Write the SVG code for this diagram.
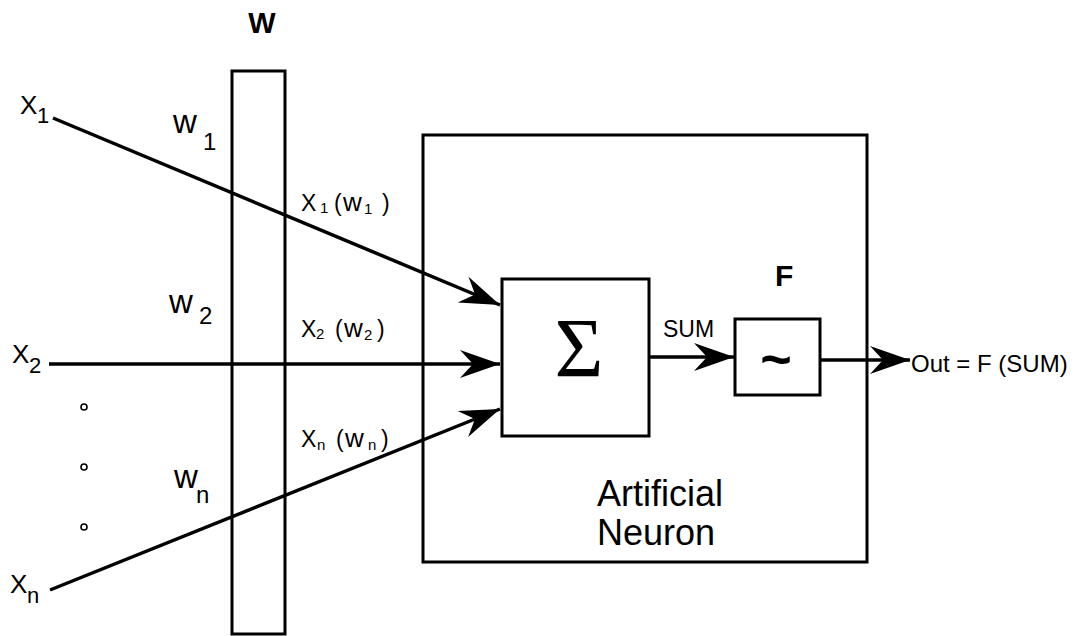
<svg xmlns="http://www.w3.org/2000/svg" width="1085" height="636" viewBox="0 0 1085 636">
<style>
  .box{fill:none;stroke:#000;stroke-width:3}
  .ln{fill:none;stroke:#000;stroke-width:3.5}
  .t{font-family:"Liberation Sans",Arial,sans-serif;fill:#000}
  .b{font-weight:bold}
  .dot{fill:#fff;stroke:#000;stroke-width:1.6}
</style>
<defs>
  <marker id="ah" markerUnits="userSpaceOnUse" markerWidth="46" markerHeight="32" viewBox="-42 -16 46 32" refX="0" refY="0" orient="auto">
    <path d="M0,0 L-40,-14 L-27,0 L-40,14 Z" fill="#000"/>
  </marker>
</defs>
<rect width="1085" height="636" fill="#fff"/>

<g id="weights">
  <rect class="box" x="232" y="71" width="53" height="563"/>
  <text class="t b" x="262" y="33" font-size="29" text-anchor="middle">W</text>
</g>

<g id="neuron">
  <rect class="box" x="423" y="135" width="444" height="427"/>
  <text class="t" x="597" y="506" font-size="36">Artificial</text>
  <text class="t" x="597" y="545" font-size="36">Neuron</text>
</g>

<g id="sum">
  <rect class="box" x="502" y="279" width="147" height="157"/>
  <text x="579" y="377" font-family="'Liberation Serif','Times New Roman',serif" font-size="84" text-anchor="middle">Σ</text>
</g>

<g id="func">
  <rect class="box" x="735" y="319" width="85" height="76"/>
  <text class="t b" x="775" y="286" font-size="30">F</text>
  <text class="t b" x="776" y="378" font-size="54" text-anchor="middle">~</text>
</g>

<g id="inputs">
  <text class="t" font-size="26"><tspan x="20" y="114">X</tspan><tspan x="37" y="123" font-size="22">1</tspan></text>
  <text class="t" font-size="26"><tspan x="12" y="363">X</tspan><tspan x="29" y="373" font-size="22">2</tspan></text>
  <text class="t" font-size="26"><tspan x="10" y="593">X</tspan><tspan x="27" y="603" font-size="22">n</tspan></text>
  <circle class="dot" cx="84" cy="407" r="3"/>
  <circle class="dot" cx="84" cy="467" r="3"/>
  <circle class="dot" cx="84" cy="527" r="3"/>
</g>

<g id="weight-labels">
  <text class="t" font-size="33"><tspan x="173" y="133">w</tspan><tspan x="203" y="150" font-size="24">1</tspan></text>
  <text class="t" font-size="33"><tspan x="169" y="313">w</tspan><tspan x="199" y="324" font-size="24">2</tspan></text>
  <text class="t" font-size="33"><tspan x="174" y="488">w</tspan><tspan x="196" y="503" font-size="24">n</tspan></text>
</g>

<g id="products">
  <text class="t" font-size="23"><tspan x="301" y="211">X</tspan><tspan x="320" y="213" font-size="15">1</tspan><tspan x="334" y="211">(</tspan><tspan x="343" y="211" font-size="26">w</tspan><tspan x="364" y="214" font-size="15">1</tspan><tspan x="382" y="211">)</tspan></text>
  <text class="t" font-size="23"><tspan x="301" y="337">X</tspan><tspan x="316" y="339" font-size="15">2</tspan><tspan x="335" y="337">(</tspan><tspan x="344" y="337" font-size="26">w</tspan><tspan x="364" y="340" font-size="15">2</tspan><tspan x="377" y="337">)</tspan></text>
  <text class="t" font-size="23"><tspan x="301" y="447">X</tspan><tspan x="317" y="450" font-size="15">n</tspan><tspan x="336" y="447">(</tspan><tspan x="345" y="447" font-size="26">w</tspan><tspan x="368" y="450" font-size="15">n</tspan><tspan x="381" y="447">)</tspan></text>
</g>

<g id="connectors">
  <line class="ln" x1="53" y1="118" x2="500" y2="305" marker-end="url(#ah)"/>
  <line class="ln" x1="49" y1="364" x2="500" y2="364" marker-end="url(#ah)"/>
  <line class="ln" x1="50" y1="590" x2="500" y2="409" marker-end="url(#ah)"/>
  <line class="ln" x1="649" y1="357" x2="734" y2="357" marker-end="url(#ah)"/>
  <line class="ln" x1="820" y1="360" x2="910" y2="360" marker-end="url(#ah)"/>
  <text class="t" x="663" y="337" font-size="23">SUM</text>
  <text class="t" x="911" y="372" font-size="24">Out = F (SUM)</text>
</g>
</svg>
